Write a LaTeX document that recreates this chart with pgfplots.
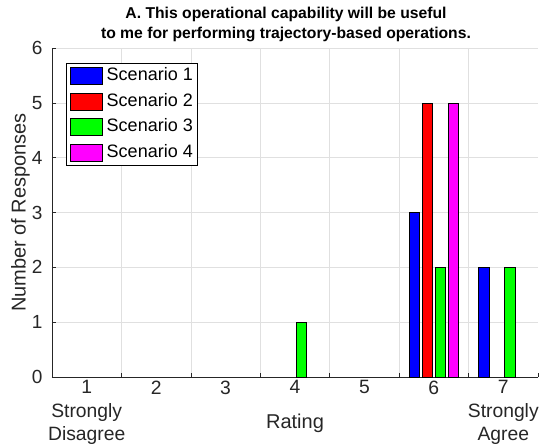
\documentclass[border=0pt]{standalone}
\usepackage{pgfplots}
\pgfplotsset{compat=1.18}
\usepackage{fontspec}
\setmainfont{Liberation Sans}
\definecolor{axgray}{rgb}{0.15,0.15,0.15}
\definecolor{gridgray}{rgb}{0.88,0.88,0.88}
\definecolor{sblue}{rgb}{0,0,1}
\definecolor{sred}{rgb}{1,0,0}
\definecolor{sgreen}{rgb}{0,1,0}
\definecolor{smag}{rgb}{1,0,1}
\pgfplotsset{
  mybar/.style={ybar, bar width=10.5pt, draw=black, line width=0.5pt,
    legend image code/.code={\draw[##1,line width=0.5pt] (0pt,-8.5pt) rectangle (32pt,8.5pt);}},
}
\begin{document}
\begin{tikzpicture}
\path[use as bounding box] (-52pt,-71pt) rectangle (490pt,377pt);
\begin{axis}[
  at={(0,0)}, anchor=south west,
  scale only axis, width=486pt, height=329pt,
  xmin=0.5, xmax=7.5, ymin=0, ymax=6,
  axis x line=bottom, axis y line=left,
  axis line style={-, axgray, line width=0.6pt},
  tick align=inside,
  major tick length=4.5pt, minor tick length=4.5pt,
  tick style={axgray, line width=0.6pt},
  ytick={0,1,...,6},
  xtick={1.5,2.5,...,6.5}, xticklabels={},
  minor xtick={7.5},
  xmajorgrids, ymajorgrids,
  grid style={gridgray, line width=0.6pt},
  extra x ticks={1,2,...,7},
  extra x tick labels={{1\\Strongly\\Disagree},2,3,4,5,6,{7\\Strongly\\Agree}},
  extra x tick style={major tick length=0pt, grid=none},
  xticklabel style={font=\fontsize{19.3}{23.5}\selectfont, align=center, text=axgray},
  yticklabel style={font=\fontsize{19}{19}\selectfont, text=axgray, xshift=-6pt},
  /pgf/number format/assume math mode=true,
  xlabel={Rating},
  xlabel style={at={(axis description cs:0.5,0)}, anchor=base, yshift=-51pt,
    font=\fontsize{20}{20}\selectfont, text=axgray},
  ylabel={Number of Responses},
  ylabel style={at={(axis description cs:-0.0545,0.5)}, anchor=base, rotate=0,
    font=\fontsize{20}{20}\selectfont, text=axgray},
  title={A. This operational capability will be useful\\to me for performing trajectory-based operations.},
  title style={at={(axis description cs:0.5,1)}, anchor=south, xshift=-9pt, yshift=0pt,
    inner sep=0pt, font=\bfseries\fontsize{15.7}{20}\selectfont, align=center},
  legend style={at={(axis description cs:0.0288,0.9544)}, anchor=north west,
    draw=black, line width=0.5pt, fill=white,
    font=\fontsize{18}{18}\selectfont,
    inner xsep=4pt, inner ysep=4pt, row sep=8pt,
    nodes={inner sep=0pt, text height=13pt, text depth=4pt},
    /tikz/every odd column/.append style={column sep=4pt}},
  legend cell align=left,
]
\addplot[mybar, bar shift=-19.5pt, fill=sblue] coordinates {(6,3) (7,2)};
\addlegendentry{Scenario 1}
\addplot[mybar, bar shift=-6.5pt, fill=sred] coordinates {(6,5)};
\addlegendentry{Scenario 2}
\addplot[mybar, bar shift=6.5pt, fill=sgreen] coordinates {(4,1) (6,2) (7,2)};
\addlegendentry{Scenario 3}
\addplot[mybar, bar shift=19.5pt, fill=smag] coordinates {(6,5)};
\addlegendentry{Scenario 4}
\end{axis}
\end{tikzpicture}
\end{document}
